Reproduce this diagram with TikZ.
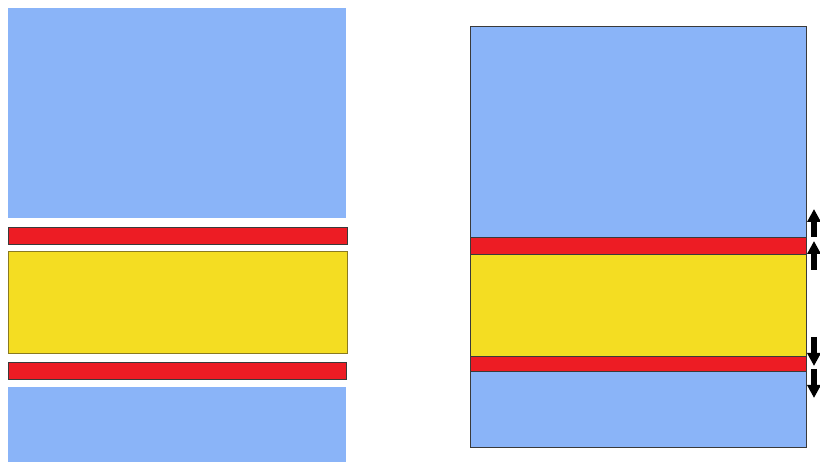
\documentclass[tikz,border=0pt]{standalone}
\usepackage{xcolor}
\usepackage{tikz}
\usetikzlibrary{arrows.meta}
\definecolor{layerblue}{HTML}{8AB4F8}
\definecolor{layerred}{HTML}{ED1C24}
\definecolor{layeryellow}{HTML}{F4DD22}
\definecolor{layeredge}{HTML}{3A3A3A}
\definecolor{yellowedge}{HTML}{8A7A20}
\tikzset{
  shift arrow/.style={line width=6.5pt,-{Triangle[width=13pt,length=13pt]}}
}
\begin{document}
\begin{tikzpicture}[x=1pt,y=-1pt]
\useasboundingbox (0,0) rectangle (820,462);
% left: separated layers
\fill[layerblue] (8,8) rectangle (346,218);
\filldraw[layerred,draw=layeredge,line width=0.8pt] (8,227) rectangle (347,244);
\filldraw[layeryellow,draw=yellowedge,line width=0.8pt] (8,251) rectangle (347,353);
\filldraw[layerred,draw=layeredge,line width=0.8pt] (8,362) rectangle (346,379);
\fill[layerblue] (8,387) rectangle (346,462);
% right: stacked layers
\fill[layerblue] (470,26) rectangle (806,237);
\fill[layerred] (470,237) rectangle (806,254);
\fill[layeryellow] (470,254) rectangle (807,356);
\fill[layerred] (470,356) rectangle (806,371);
\fill[layerblue] (470,371) rectangle (806,447);
\draw[layeredge,line width=0.8pt] (470,26) rectangle (806,447);
\foreach \y in {237,254,356,371} \draw[layeredge,line width=0.3pt] (470,\y) -- (806,\y);
% arrows
\coordinate (up1s) at (814,237); \coordinate (up1e) at (814,209);
\coordinate (up2s) at (814,270); \coordinate (up2e) at (814,241);
\coordinate (dn1s) at (814,337); \coordinate (dn1e) at (814,366);
\coordinate (dn2s) at (814,369); \coordinate (dn2e) at (814,398);
\draw[shift arrow] (up1s) -- (up1e);
\draw[shift arrow] (up2s) -- (up2e);
\draw[shift arrow] (dn1s) -- (dn1e);
\draw[shift arrow] (dn2s) -- (dn2e);
\end{tikzpicture}
\end{document}
